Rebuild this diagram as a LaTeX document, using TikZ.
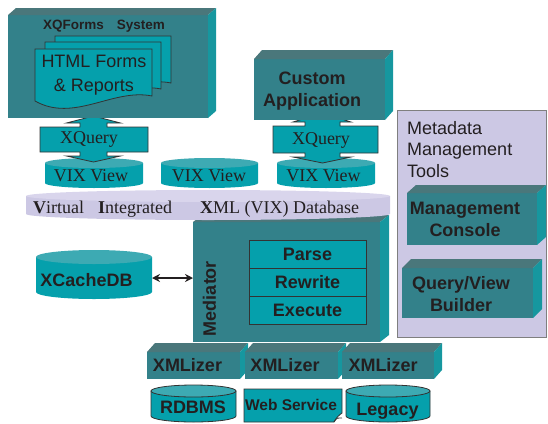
\documentclass[tikz,border=0pt]{standalone}
\usepackage{fontspec}
\setmainfont{Liberation Serif}
\setsansfont{Liberation Sans}
\usetikzlibrary{arrows.meta}
\definecolor{frontc}{HTML}{33818A}
\definecolor{topc}{HTML}{4A777B}
\definecolor{sidec}{HTML}{16979F}
\definecolor{tealc}{HTML}{05A0AC}
\definecolor{cyltopc}{HTML}{3DAAB3}
\definecolor{lavc}{HTML}{CCC8E4}
\definecolor{lavtopc}{HTML}{D9D5EC}
\definecolor{txtc}{HTML}{231F20}
\definecolor{linec}{HTML}{333333}
\definecolor{panelline}{HTML}{7F7F7F}
\newcommand\boxfaces[3]{%
  \fill[topc] (#1.north west) -- ++(#2,-#3) -- ([shift={(#2,-#3)}]#1.north east) -- (#1.north east) -- cycle;
  \fill[sidec] (#1.north east) -- ++(#2,-#3) -- ([shift={(#2,-#3)}]#1.south east) -- (#1.south east) -- cycle;
}
\newcommand\drawcyl[7]{%
  \path[#6] (#1,#3) -- (#1,#4) arc[start angle=180,end angle=0,x radius={(#2-#1)/2},y radius=#5] -- (#2,#3) -- cycle;
  \path[#7] ({(#1+#2)/2},#3) ellipse[x radius={(#2-#1)/2},y radius=#5];
}
\newcommand\docshape[5]{%
  \path[tealbox] (#1,#2) -- (#3,#2) -- (#3,#5) .. controls ({#1+0.667*(#3-#1)},{#5-8}) and ({#1+0.333*(#3-#1)},{#4+22}) .. (#1,#4) -- cycle;
}
\tikzset{
  face/.style={fill=frontc, inner sep=0pt, outer sep=0pt},
  bl/.style={font=\sffamily\bfseries\fontsize{18}{22}\selectfont, text=txtc, inner sep=0pt, text height=12.9pt, text depth=0pt},
  blm/.style={font=\sffamily\bfseries\fontsize{18}{22}\selectfont, text=txtc, inner sep=0pt, align=center},
  sr/.style={font=\fontsize{18}{22}\selectfont, text=txtc, inner sep=0pt, text height=11.9pt, text depth=0pt},
  tealbox/.style={fill=tealc, draw=linec, line width=0.8pt, inner sep=0pt, outer sep=0pt},
  dbtop/.style={fill=cyltopc, draw=linec, line width=0.8pt},
  dbbody/.style={fill=tealc, draw=linec, line width=0.8pt},
  biarrow/.style={{Stealth[length=8pt,width=8pt]}-{Stealth[length=8pt,width=8pt]}, line width=2pt, draw=txtc},
}
\begin{document}
\begin{tikzpicture}[x=1pt,y=-1pt]
\useasboundingbox (0,0) rectangle (548,423);

% Metadata panel
\node[fill=lavc, draw=panelline, line width=1pt, minimum width=149pt, minimum height=227pt, inner sep=0pt, outer sep=0pt] (meta) at (471.5,223.5) {};
\node[anchor=north west, font=\sffamily\fontsize{18}{21.5}\selectfont, align=left, inner sep=0pt, text=txtc] (metat) at (407,120.8) {Metadata\\Management\\Tools};
\node[face, minimum width=130pt, minimum height=52pt] (mc) at (472,219) {};
\boxfaces{mc}{9}{8}
\node[blm] (mct) at (465,219.6) {Management\\Console};
\node[face, minimum width=131pt, minimum height=50pt] (qv) at (467.5,293) {};
\boxfaces{qv}{9}{9}
\node[blm] (qvt) at (461,294.5) {Query/View\\Builder};

% VIX views
\drawcyl{45}{143}{163}{183}{5}{fill=tealc}{fill=cyltopc}
\drawcyl{161}{258}{163}{183}{5}{fill=tealc}{fill=cyltopc}
\drawcyl{277}{375}{163}{183}{5}{fill=tealc}{fill=cyltopc}
\node[sr] (vix1) at (91,176) {VIX View};
\node[sr] (vix2) at (209,176) {VIX View};
\node[sr] (vix3) at (323.5,176) {VIX View};

% XQuery arrows
\path[tealbox] (40,127) -- (80,127) -- (80,123) -- (66.5,123) -- (93.5,116) -- (120.5,123) -- (107,123) -- (107,127) -- (148,127) -- (148,152) -- (107,152) -- (107,156) -- (120.5,156) -- (93.5,162) -- (66.5,156) -- (80,156) -- (80,152) -- (40,152) -- cycle;
\node[sr] (xq1) at (89,138) {XQuery};
\path[tealbox] (273,126) -- (305,126) -- (305,122) -- (293,122) -- (322.5,113) -- (351,122) -- (340,122) -- (340,126) -- (378,126) -- (378,153) -- (340,153) -- (340,157) -- (351,157) -- (322.5,163) -- (293,157) -- (305,157) -- (305,153) -- (273,153) -- cycle;
\node[sr] (xq2) at (321,139) {XQuery};

% XQForms system
\node[face, minimum width=200pt, minimum height=103pt] (xqf) at (108,66.5) {};
\boxfaces{xqf}{8}{7}
\node[bl, font=\sffamily\bfseries\fontsize{13.5}{16}\selectfont, text height=9.7pt, anchor=west] (xqft) at (43,24.5) {XQForms\hspace{13pt}System};
\docshape{55}{36}{171}{88}{83}
\docshape{45}{42}{161}{94}{89}
\docshape{35}{49}{152}{101}{96}
\node[font=\sffamily\fontsize{18}{24}\selectfont, text=txtc, inner sep=0pt, align=center] (html) at (94,75.4) {HTML Forms\\\& Reports};

% Custom application
\node[face, minimum width=131pt, minimum height=61pt] (cust) at (319.5,89.5) {};
\boxfaces{cust}{8}{9}
\node[blm] (custt) at (312,91.4) {Custom\\Application};

% Mediator
\node[face, minimum width=187pt, minimum height=120pt] (med) at (286.5,282) {};
\boxfaces{med}{9}{7}
\drawcyl{26}{390}{196}{214}{6}{fill=lavc}{fill=lavtopc}
\node[font=\fontsize{18}{22}\selectfont, text=txtc, inner sep=0pt, anchor=base west] (vixdb) at (33,213) {\textbf{V}irtual\hspace{14pt}\textbf{I}ntegrated\hspace{28pt}\textbf{X}ML (VIX) Database};
\node[tealbox, bl, minimum width=117pt, minimum height=28pt] (parse) at (307.5,254) {Parse};
\node[tealbox, bl, minimum width=117pt, minimum height=28pt] (rewrite) at (307.5,282) {Rewrite};
\node[tealbox, bl, minimum width=117pt, minimum height=28pt] (execute) at (307.5,310) {Execute};
\node[bl, rotate=90] (medt) at (209.5,298.5) {Mediator};

% XCacheDB
\drawcyl{36}{152}{257}{292}{7}{fill=tealc}{fill=cyltopc}
\node[minimum width=116pt, minimum height=42pt, inner sep=0pt, outer sep=0pt] (xc) at (94,278) {};
\node[bl] (xct) at (86.5,280.5) {XCacheDB};
\draw[biarrow] (xc.east) -- (xc.east -| med.west);

% XMLizers
\node[face, minimum width=93pt, minimum height=27pt] (xz1) at (193.5,365.5) {};
\boxfaces{xz1}{8}{9}
\node[face, minimum width=93pt, minimum height=27pt] (xz2) at (291.5,365.5) {};
\boxfaces{xz2}{8}{9}
\node[face, minimum width=92pt, minimum height=27pt] (xz3) at (388,365.5) {};
\boxfaces{xz3}{8}{9}
\node[bl] (xz1t) at (187.5,365.5) {XMLizer};
\node[bl] (xz2t) at (285,365.5) {XMLizer};
\node[bl] (xz3t) at (383,365.5) {XMLizer};

% Sources
\drawcyl{151}{236}{391}{416}{6}{dbbody}{dbtop}
\node[bl] (rdbms) at (193,407) {RDBMS};
\path[tealbox] (244,389) -- (342,389) -- (342,413) .. controls (339,415) and (336,418) .. (334,422) -- (244,422) -- cycle;
\draw[linec, line width=0.8pt] (334,422) .. controls (336,418) and (339,417) .. (342,418);
\node[bl, font=\sffamily\bfseries\fontsize{15.5}{18}\selectfont, text height=11.1pt] (ws) at (291,404.5) {Web Service};
\drawcyl{346}{430}{391}{416}{6}{dbbody}{dbtop}
\node[bl] (legacy) at (387.5,409) {Legacy};
\end{tikzpicture}
\end{document}
